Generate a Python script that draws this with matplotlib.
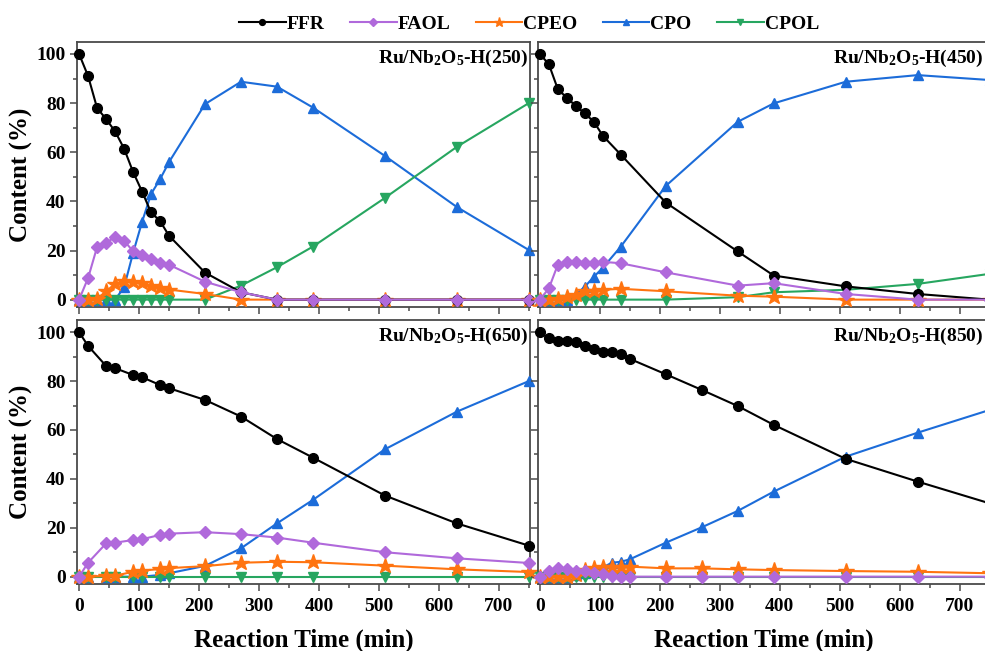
import matplotlib
matplotlib.use("Agg")
import matplotlib.pyplot as plt
from matplotlib.ticker import MultipleLocator

plt.rcParams['font.family'] = ['Liberation Serif', 'DejaVu Serif']
plt.rcParams['font.weight'] = 'bold'
plt.rcParams['mathtext.fontset'] = 'custom'
plt.rcParams['mathtext.rm'] = 'Liberation Serif:bold'
plt.rcParams['mathtext.bf'] = 'Liberation Serif:bold'
plt.rcParams['mathtext.it'] = 'Liberation Serif:bold'

# Sampling times (min)
t_full = [0, 15, 30, 45, 60, 75, 90, 105, 120, 135, 150, 210, 270, 330, 390, 510, 630, 750]
t_450 = [0, 15, 30, 45, 60, 75, 90, 105, 135, 210, 330, 390, 510, 630, 750]
t_650 = [0, 15, 45, 60, 90, 105, 135, 150, 210, 270, 330, 390, 510, 630, 750]

# Ru/Nb2O5-H(250)
ffr_250 = [100, 91, 78, 73.5, 68.5, 61.5, 52, 44, 35.5, 32, 26, 11, 3, 0, 0, 0, 0, 0]
faol_250 = [0, 8.8, 21.4, 23.1, 25.5, 24, 19.7, 18, 16.6, 14.8, 14.2, 7.3, 3, 0, 0, 0, 0, 0]
cpeo_250 = [0, 0, 0.3, 3.4, 6.4, 7.6, 7.3, 6.7, 5.7, 4.8, 4.1, 2.3, 0, 0, 0, 0, 0, 0]
cpo_250 = [0, 0, 0, 0, 0, 5, 19, 31.6, 43, 49, 56, 79.6, 88.7, 86.7, 78.2, 58.5, 37.7, 20.2]
cpol_250 = [0, 0, 0, 0, 0, 0, 0, 0, 0, 0, 0, 0, 5.7, 13.2, 21.6, 41.4, 62.2, 80]

# Ru/Nb2O5-H(450)
ffr_450 = [100, 95.8, 85.6, 82.2, 78.8, 75.8, 72.4, 66.7, 59, 39.5, 19.6, 9.8, 5.4, 2.3, 0]
faol_450 = [0, 4.6, 14.3, 15.2, 15.2, 14.8, 14.8, 15.4, 14.8, 11.1, 5.7, 6.7, 2.3, 0, 0]
cpeo_450 = [0, 0, 0.3, 1, 2, 3.7, 3.7, 4, 4.4, 3.4, 1.6, 1.2, 0, 0, 0]
cpo_450 = [0, 0, 0, 0, 2, 5.3, 9.3, 13, 21.6, 46.3, 72.4, 79.9, 88.7, 91.4, 89.4]
cpol_450 = [0, 0, 0, 0, 0, 0, 0, 0, 0, 0, 1, 3, 4, 6.4, 10.5]

# Ru/Nb2O5-H(650)
ffr_650 = [100, 94.4, 86.2, 85.3, 82.5, 81.6, 78.4, 77.1, 72.3, 65.5, 56.3, 48.7, 33.2, 21.8, 12.7]
faol_650 = [0, 5.7, 13.6, 13.9, 15, 15.3, 17.1, 17.6, 18.2, 17.4, 16, 13.9, 10, 7.5, 5.6]
cpeo_650 = [0, 0, 0.3, 0.4, 2, 2.5, 3.1, 3.5, 4.3, 5.7, 6.1, 5.9, 4.5, 3, 1.9]
cpo_650 = [0, 0, 0, 0, 0, 0, 0.7, 1.4, 4.4, 11.6, 21.8, 31.4, 52.1, 67.5, 80]
cpol_650 = [0, 0, 0, 0, 0, 0, 0, 0, 0, 0, 0, 0, 0, 0, 0]

# Ru/Nb2O5-H(850)
ffr_850 = [100, 97.5, 96.6, 96.6, 95.9, 94.5, 93, 91.8, 91.8, 91, 89.1, 82.8, 76.4, 69.8, 62.1, 48.2, 38.9, 30]
faol_850 = [0, 2.5, 3.4, 3, 2.3, 2.2, 1.6, 1, 0.3, 0, 0, 0, 0, 0, 0, 0, 0, 0]
cpeo_850 = [0, 0, 0, 0, 0.7, 2.7, 3.4, 4.1, 4.1, 4.1, 4.1, 3.4, 3.4, 3, 2.7, 2.3, 2, 1.4]
cpo_850 = [0, 0, 0, 0, 0.5, 1.5, 2.5, 3.8, 5.7, 6.1, 7.1, 13.9, 20.2, 26.9, 34.8, 49.1, 58.9, 68.2]
cpol_850 = [0] * 18

series_names = ['FFR', 'FAOL', 'CPEO', 'CPO', 'CPOL']
panel_titles = [r'Ru/Nb$_2$O$_5$-H(250)', r'Ru/Nb$_2$O$_5$-H(450)',
                r'Ru/Nb$_2$O$_5$-H(650)', r'Ru/Nb$_2$O$_5$-H(850)']

panels = [
    (t_full, [ffr_250, faol_250, cpeo_250, cpo_250, cpol_250]),
    (t_450, [ffr_450, faol_450, cpeo_450, cpo_450, cpol_450]),
    (t_650, [ffr_650, faol_650, cpeo_650, cpo_650, cpol_650]),
    (t_full, [ffr_850, faol_850, cpeo_850, cpo_850, cpol_850]),
]

styles = {
    'FFR':  dict(color='black',   marker='o', ms=7.0, zorder=5),
    'FAOL': dict(color='#B069DB', marker='D', ms=6.5, zorder=6),
    'CPEO': dict(color='#FF7410', marker='*', ms=11.5, zorder=4),
    'CPO':  dict(color='#1C6CD9', marker='^', ms=7.5, zorder=3),
    'CPOL': dict(color='#27A660', marker='v', ms=7.5, zorder=3.5),
}

fig = plt.figure(figsize=(9.85, 6.51), dpi=100)
fig.patch.set_facecolor('white')

W = 985.0
H = 651.0
ax_w = 453.3 / W
left_x = [76.7 / W, 537.5 / W]
row_y = [(1 - 307.0 / H, 265.3 / H), (1 - 584.0 / H, 264.0 / H)]
# right edge of the panel labels, in axes fraction (right column sits partly off-canvas)
title_x = [0.9956, (983.0 - 537.5) / 453.3]

spine_color = '#4a4a4a'
axes = []
for i, (times, values) in enumerate(panels):
    r, c = divmod(i, 2)
    b, h = row_y[r]
    ax = fig.add_axes([left_x[c], b, ax_w, h])
    axes.append(ax)
    for name, vals in zip(series_names, values):
        st = styles[name]
        ax.plot(times, vals, color=st['color'], marker=st['marker'], ms=st['ms'],
                lw=1.5, zorder=st['zorder'], label=name, clip_on=False)
    ax.set_xlim(-4, 752)
    ax.set_ylim(-3, 105)
    ax.xaxis.set_major_locator(MultipleLocator(100))
    ax.xaxis.set_minor_locator(MultipleLocator(50))
    ax.yaxis.set_major_locator(MultipleLocator(20))
    ax.yaxis.set_minor_locator(MultipleLocator(10))
    ax.tick_params(which='both', direction='out', top=False, right=False,
                   color=spine_color, width=1.1)
    ax.tick_params(which='major', length=5, labelsize=14, pad=3)
    ax.tick_params(which='minor', length=3)
    ax.tick_params(axis='x', which='major', pad=5)
    for sp in ax.spines.values():
        sp.set_color(spine_color)
        sp.set_linewidth(1.3)
    for lab in ax.get_xticklabels() + ax.get_yticklabels():
        lab.set_fontweight('bold')
    if r == 0:
        ax.tick_params(axis='x', labelbottom=False)
    else:
        ax.set_xlabel('Reaction Time (min)', fontsize=18, fontweight='bold', va='center')
        ax.xaxis.set_label_coords(0.5, -0.212)
    if c == 1:
        ax.tick_params(axis='y', labelleft=False)
    else:
        ax.set_ylabel('Content (%)', fontsize=18, fontweight='bold', va='center')
        ax.yaxis.set_label_coords(-0.121, 0.5)
    ax.text(title_x[c], 0.978, panel_titles[i], transform=ax.transAxes, ha='right', va='top',
            fontsize=14, fontweight='bold', zorder=10)

handles, labels = axes[0].get_legend_handles_labels()
fig.legend(handles, labels, loc='center', bbox_to_anchor=(0.537, 0.963), ncol=5,
           frameon=False, handlelength=2.4, handletextpad=0.05,
           columnspacing=1.3, markerscale=0.6, prop={'weight': 'bold', 'size': 14})

fig.savefig('out.png', dpi=100, facecolor='white')
